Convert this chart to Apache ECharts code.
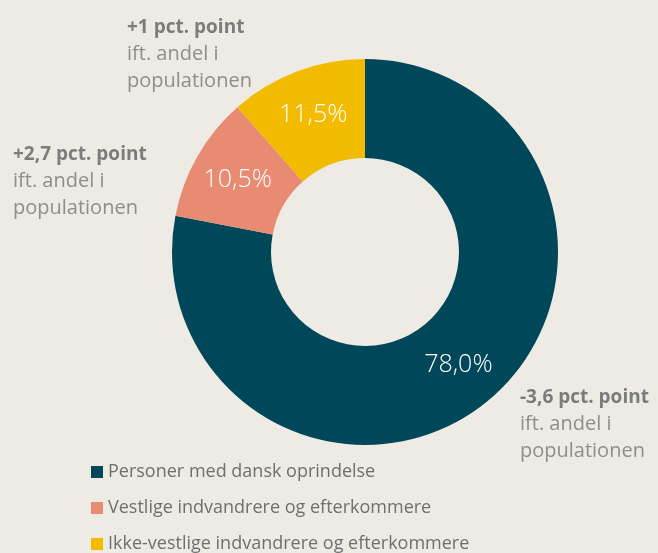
<!DOCTYPE html>
<html>
<head>
<meta charset="utf-8">
<script src="https://cdn.jsdelivr.net/npm/echarts@6/dist/echarts.min.js"></script>
<style>
  html, body { margin: 0; padding: 0; background: #eeebe5; }
  #chart { width: 658px; height: 553px; }
</style>
</head>
<body>
<div id="chart"></div>
<script>
// data
const groups = [
  "Personer med dansk oprindelse",
  "Vestlige indvandrere og efterkommere",
  "Ikke-vestlige indvandrere og efterkommere",
];
const shares = [78.0, 10.5, 11.5];
const diffs = ["-3,6 pct. point", "+2,7 pct. point", "+1 pct. point"];
const colors = ["#00475a", "#e98a72", "#f2bb00"];

const font = "'Open Sans', 'Noto Sans', sans-serif";

// annotation blocks (text positions only)
const notePos = [
  [520, 388],
  [13, 145],
  [127, 18],
];

const graphics = [];
diffs.forEach((d, i) => {
  graphics.push({
    type: "text",
    left: notePos[i][0],
    top: notePos[i][1],
    style: {
      text: "{b|" + d + "}\n{n|ift. andel i}\n{n|populationen}",
      font: "20px " + font,
      rich: {
        b: { fontSize: 19, fontWeight: "bold", fill: "#7c7c7c", lineHeight: 27, fontFamily: font },
        n: { fontSize: 20, fill: "#8e8e8e", lineHeight: 27, fontFamily: font },
      },
    },
  });
});

const chart = echarts.init(document.getElementById("chart"));
chart.setOption({
  backgroundColor: "#eeebe5",
  animation: false,
  color: colors,
  legend: {
    orient: "vertical",
    left: 91,
    top: 463,
    padding: 0,
    itemWidth: 12,
    itemHeight: 12,
    itemGap: 18,
    icon: "rect",
    textStyle: { fontFamily: font, fontSize: 18, lineHeight: 17, color: "#6f6f6f" },
    data: groups,
  },
  graphic: graphics,
  series: [
    {
      type: "pie",
      center: [365, 252],
      radius: [94, 193],
      startAngle: 90,
      clockwise: true,
      label: {
        show: true,
        position: "inside",
        color: "#ffffff",
        fontFamily: font,
        fontSize: 25,
        fontWeight: 300,
        formatter: (p) => p.value.toFixed(1).replace(".", ",") + "%",
      },
      labelLine: { show: false },
      emphasis: { disabled: true },
      data: groups.map((g, i) => ({ name: g, value: shares[i] })),
    },
  ],
});
</script>
</body>
</html>
